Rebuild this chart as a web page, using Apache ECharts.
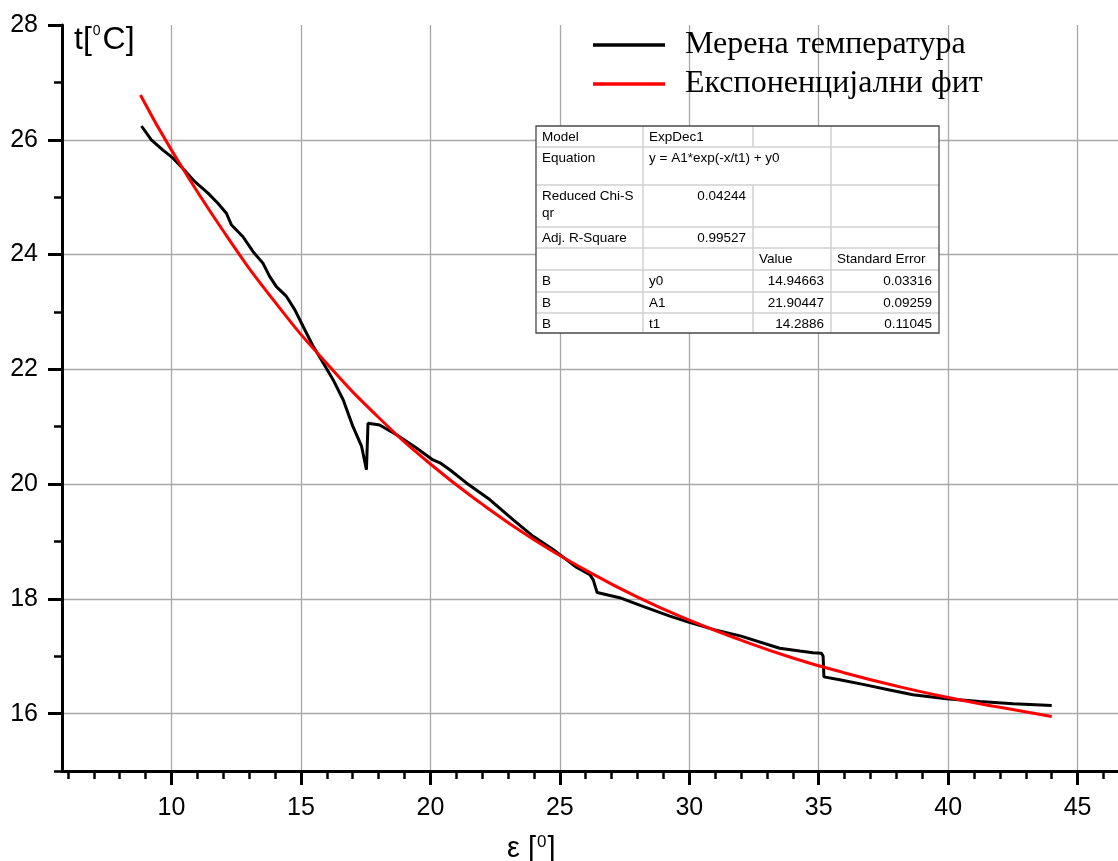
<!DOCTYPE html>
<html><head><meta charset="utf-8">
<script src="https://cdn.jsdelivr.net/npm/echarts@6/dist/echarts.min.js"></script>
<style>html,body{margin:0;padding:0;background:#fff}#c{width:1118px;height:861px}</style>
</head><body><div id="c"></div>
<script>
// ---- data ----
const seriesNames = ['Мерена температура', 'Експоненцијални фит'];
const measuredX = [8.84, 9.22, 9.67, 10.06, 10.44, 10.90, 11.41, 11.80, 12.12, 12.31, 12.76, 13.15, 13.53, 13.79, 14.05, 14.44, 14.76, 15.08, 15.45, 15.85, 16.24, 16.63, 17.01, 17.34, 17.53, 17.59, 17.66, 18.04, 18.69, 19.46, 20.10, 20.37, 20.75, 21.39, 22.29, 23.19, 23.97, 24.74, 25.00, 25.64, 26.16, 26.29, 26.44, 27.31, 28.21, 29.25, 30.0, 31.0, 32.0, 33.49, 34.27, 34.78, 35.11, 35.17, 35.20, 35.81, 36.71, 37.74, 38.64, 39.93, 41.22, 42.51, 44.00];
const measuredY = [26.24, 26.00, 25.82, 25.68, 25.50, 25.27, 25.07, 24.89, 24.72, 24.52, 24.31, 24.05, 23.85, 23.62, 23.44, 23.27, 23.04, 22.75, 22.42, 22.12, 21.82, 21.47, 21.00, 20.66, 20.25, 21.06, 21.09, 21.03, 20.86, 20.63, 20.42, 20.37, 20.25, 20.02, 19.73, 19.38, 19.09, 18.86, 18.77, 18.55, 18.42, 18.33, 18.11, 18.02, 17.87, 17.70, 17.59, 17.46, 17.35, 17.14, 17.09, 17.06, 17.05, 17.00, 16.64, 16.59, 16.51, 16.41, 16.33, 16.26, 16.21, 16.17, 16.14];
const fitX = [8.8, 10, 12, 14, 16, 18, 20, 22, 24, 26, 28, 30, 32, 34, 36, 38, 40, 42, 44];
const fitY = [26.78, 25.82, 24.41, 23.17, 22.10, 21.16, 20.35, 19.65, 19.03, 18.50, 18.03, 17.63, 17.28, 16.97, 16.71, 16.48, 16.28, 16.11, 15.95];
const xMajorTicks = [10, 15, 20, 25, 30, 35, 40, 45];
const xMinorTicks = [6, 7, 8, 9, 11, 12, 13, 14, 16, 17, 18, 19, 21, 22, 23, 24, 26, 27, 28, 29, 31, 32, 33, 34, 36, 37, 38, 39, 41, 42, 43, 44, 46];
const yMajorTicks = [16, 18, 20, 22, 24, 26, 28];
const yGridValues = [16, 18, 20, 22, 24, 26];
const yMinorTicks = [15, 17, 19, 21, 23, 25, 27];
const tableRows = [
  ['Model', 'ExpDec1', '', ''],
  ['Equation', 'y = A1*exp(-x/t1) + y0', '', ''],
  ['Reduced Chi-S\nqr', '0.04244', '', ''],
  ['Adj. R-Square', '0.99527', '', ''],
  ['', '', 'Value', 'Standard Error'],
  ['B', 'y0', '14.94663', '0.03316'],
  ['B', 'A1', '21.90447', '0.09259'],
  ['B', 't1', '14.2886', '0.11045']
];

// ---- layout ----
const colEdges = [536, 643, 753, 831, 939];
const rowEdges = [126, 147, 185, 227, 248, 270, 292, 313, 333];
const mergedCells = [[1, 1]]; // row 1, col 1 spans two columns

const chart = echarts.init(document.getElementById('c'), null, {renderer: 'canvas'});

const graphics = [];
graphics.push({type: 'rect', z: 100, shape: {x: colEdges[0], y: rowEdges[0], width: colEdges[4] - colEdges[0], height: rowEdges[8] - rowEdges[0]}, style: {fill: '#fff', stroke: 'none'}});
for (let r = 1; r < rowEdges.length - 1; r++) {
  graphics.push({type: 'line', z: 101, shape: {x1: colEdges[0], y1: rowEdges[r], x2: colEdges[4], y2: rowEdges[r]}, style: {stroke: '#d0d0d0', lineWidth: 1.5}});
}
for (let c = 1; c < colEdges.length - 1; c++) {
  for (let r = 0; r < rowEdges.length - 1; r++) {
    if (mergedCells.some(m => m[0] === r && m[1] === c - 1)) continue;
    graphics.push({type: 'line', z: 101, shape: {x1: colEdges[c], y1: rowEdges[r], x2: colEdges[c], y2: rowEdges[r + 1]}, style: {stroke: '#d0d0d0', lineWidth: 1.5}});
  }
}
graphics.push({type: 'rect', z: 102, shape: {x: colEdges[0], y: rowEdges[0], width: colEdges[4] - colEdges[0], height: rowEdges[8] - rowEdges[0]}, style: {fill: 'none', stroke: '#4a4a4a', lineWidth: 1.3}});
tableRows.forEach((row, r) => {
  row.forEach((txt, c) => {
    if (!txt) return;
    const numeric = /^[0-9.\-]+$/.test(txt);
    graphics.push({
      type: 'text', z: 103,
      x: numeric ? colEdges[c + 1] - 7 : colEdges[c] + 6,
      y: rowEdges[r] + 3,
      style: {text: txt, fill: '#000', fontSize: 13.5, fontFamily: 'Liberation Sans', lineHeight: 16.6, align: numeric ? 'right' : 'left', verticalAlign: 'top'}
    });
  });
});
// axis titles
graphics.push({
  type: 'text', z: 50, x: 74, y: 24.5,
  style: {text: '{a|t[}{s|0}{a|C]}', fill: '#000', verticalAlign: 'top', align: 'left',
    rich: {a: {fontSize: 32, lineHeight: 32, fontFamily: 'Liberation Sans', fill: '#000'},
           s: {fontSize: 14, lineHeight: 9, fontFamily: 'Liberation Sans', fill: '#000', verticalAlign: 'top', padding: [0, 2, 0, 1]}}}
});
graphics.push({
  type: 'text', z: 50, x: 507, y: 834,
  style: {text: '{e|ε [}{s|0}{e|]}', fill: '#000', verticalAlign: 'top', align: 'left',
    rich: {e: {fontSize: 29, lineHeight: 29, fontFamily: 'Liberation Sans', fill: '#000'},
           s: {fontSize: 17, lineHeight: 10, fontFamily: 'Liberation Sans', fill: '#000', verticalAlign: 'top', padding: [0, 1, 0, 1]}}}
});

const xMin = 5.77, xMax = 46.56;
const labelStyle = {fontSize: 25, fontFamily: 'Liberation Sans', color: '#000'};

const option = {
  animation: false,
  backgroundColor: '#fff',
  grid: {left: 62, right: 0, top: 25, bottom: 90, containLabel: false, outerBoundsMode: 'none'},
  legend: {
    orient: 'vertical', left: 593, top: 29, padding: 0,
    icon: 'rect', itemWidth: 72, itemHeight: 3.5, itemGap: 7,
    data: seriesNames,
    textStyle: {fontFamily: 'Liberation Serif', fontSize: 32, lineHeight: 32, color: '#000', padding: [0, 0, 0, 15]}
  },
  xAxis: [
    {type: 'value', min: xMin, max: xMax, position: 'bottom',
      axisLine: {onZero: false, lineStyle: {color: '#000', width: 3}},
      axisTick: {show: true, customValues: xMajorTicks, length: 14, lineStyle: {color: '#000', width: 3}},
      axisLabel: {customValues: xMajorTicks, margin: 25, ...labelStyle},
      splitLine: {show: true, lineStyle: {color: '#a8a8a8', width: 1.3}}},
    {type: 'value', min: xMin, max: xMax, position: 'bottom',
      axisLine: {show: false},
      axisTick: {show: true, customValues: xMinorTicks, length: 8, lineStyle: {color: '#000', width: 2.5}},
      axisLabel: {show: false}, splitLine: {show: false}}
  ],
  yAxis: [
    {type: 'value', min: 15, max: 28, position: 'left',
      axisLine: {show: true, onZero: false, lineStyle: {color: '#000', width: 3}},
      axisTick: {show: true, customValues: yMajorTicks, length: 14, lineStyle: {color: '#000', width: 3}},
      axisLabel: {customValues: yMajorTicks, margin: 24, ...labelStyle},
      splitLine: {show: false}},
    {type: 'value', min: 15, max: 28, position: 'left',
      axisLine: {show: false},
      axisTick: {show: true, customValues: yMinorTicks, length: 8, lineStyle: {color: '#000', width: 2.5}},
      axisLabel: {show: false}, splitLine: {show: false}},
    {type: 'value', min: 15, max: 28, position: 'left',
      axisLine: {show: false},
      axisTick: {show: false, customValues: yGridValues},
      axisLabel: {show: false},
      splitLine: {show: true, lineStyle: {color: '#a8a8a8', width: 1.3}}}
  ],
  series: [
    {name: seriesNames[0], type: 'line', xAxisIndex: 0, yAxisIndex: 0, symbol: 'none', showSymbol: false,
      data: measuredX.map((x, i) => [x, measuredY[i]]),
      lineStyle: {color: '#000', width: 3}, itemStyle: {color: '#000'}, z: 3},
    {name: seriesNames[1], type: 'line', xAxisIndex: 0, yAxisIndex: 0, symbol: 'none', showSymbol: false, smooth: true,
      data: fitX.map((x, i) => [x, fitY[i]]),
      lineStyle: {color: '#ff0000', width: 3}, itemStyle: {color: '#ff0000'}, z: 4}
  ],
  graphic: graphics
};
chart.setOption(option);
</script>
</body></html>
